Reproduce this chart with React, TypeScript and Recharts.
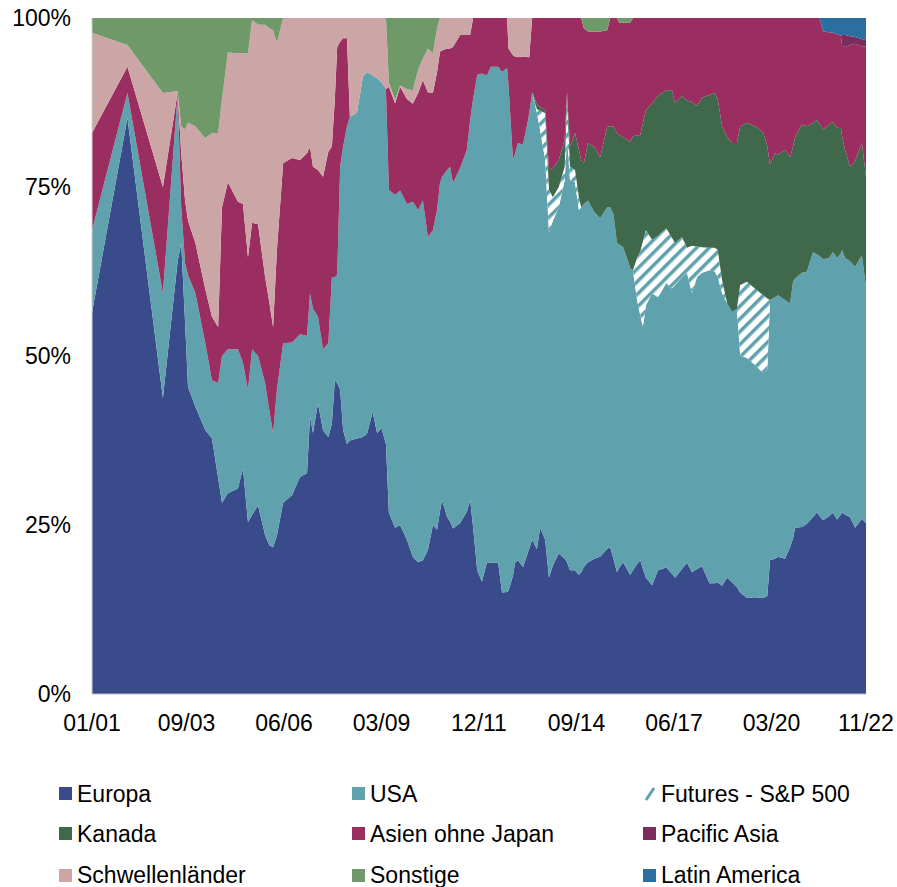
import { AreaChart, Area, XAxis, YAxis } from "recharts";

// month index since 01/2001
const months = [
  0, 12, 24, 29, 30.2, 31.5, 32.5, 35, 38.3, 40.6,
  42.7, 44, 46, 49.4, 51.1, 52.8, 54.2, 56.2, 58.6, 60,
  61.3, 62.6, 64.7, 67.7, 70.4, 72.8, 73.8, 74.8, 76.5, 78.2,
  80, 81.2, 82.2, 83, 84, 85, 86.3, 87.3, 89.7, 91.7,
  93.1, 95, 96.5, 98, 99.5, 100.5, 102.6, 104.3, 106.6, 108.6,
  110.4, 112, 113.7, 115.4, 116.8, 117.8, 118.5, 120.2, 121.2, 122.2,
  124.6, 126.9, 128, 129, 130.4, 132, 133.7, 135, 137.5, 138.8,
  140.5, 141, 142.5, 143.2, 144.2, 145.9, 147.6, 148, 149, 150.6,
  151.7, 153.4, 154.7, 156, 158, 160, 160.8, 161.8, 163.5, 164.8,
  165.6, 166.5, 167.9, 170, 172, 174.4, 175.4, 176.5, 177.7, 178.5,
  179.8, 182.2, 183.1, 184.5, 185.6, 186.5, 187.5, 189.6, 191.6, 194.4,
  196.3, 197.4, 199.7, 201.4, 203.1, 204.8, 206.5, 209, 210.8, 211.8,
  213.3, 215, 216.7, 218.3, 219.4, 221.7, 224.4, 227.2, 228.6, 229.5,
  231.2, 232.2, 234.6, 236.3, 237.3, 238, 240.3, 242, 244.1, 245.4,
  246.3, 247.5, 249.5, 250.8, 252.2, 253.5, 253.9, 254.9, 256.6, 258.3,
  260.6, 262,
];

const tickMonths = [0, 32, 65, 98, 131, 164, 197, 230, 262];
const tickLabels = ["01/01", "09/03", "06/06", "03/09", "12/11", "09/14", "06/17", "03/20", "11/22"];

const europa = [
  56.4, 85.2, 43.8, 64, 66.7, 55, 45.4, 42.5, 39.1, 37.8,
  32, 28.3, 29.7, 30.4, 33.4, 25.4, 26.5, 27.9, 23.5, 22,
  21.7, 23.5, 28.3, 29.4, 32.1, 32.7, 41, 38.6, 43, 39,
  38, 40, 46.4, 46, 45, 39, 37, 37.5, 37.8, 38,
  38.5, 41.7, 38.6, 39.3, 37, 26.8, 24.6, 25, 22.8, 20.3,
  19.5, 19.8, 21.3, 25, 24.3, 27, 28.7, 26.2, 25.5, 24.5,
  25.3, 27, 28.7, 24.7, 18.3, 16.6, 19.5, 19.4, 19.4, 15,
  15.1, 15.3, 17.5, 19.4, 19.8, 18.8, 21, 21.5, 22.8, 21.4,
  24.6, 22.8, 17.2, 19, 20.8, 20, 19.5, 18.3, 18.3, 17.6,
  18, 18.8, 19.5, 20, 20.3, 21.5, 21.7, 20, 18, 18.7,
  19.5, 17.6, 18.3, 19.2, 19.8, 18.5, 17.2, 16.1, 18.3, 18.7,
  17.8, 17.2, 18.5, 19.4, 18, 18.5, 18.9, 16.4, 16.4, 16.5,
  16, 17.2, 16.5, 15.8, 15, 14.2, 14.3, 14.2, 14.5, 19.8,
  20, 20.3, 20, 21.7, 23, 24.6, 24.7, 25.2, 26.2, 26.9,
  26.3, 25.7, 26.3, 26.8, 25.8, 26.5, 26.9, 26.5, 26.2, 24.6,
  25.9, 25.3,
];

const usa = [
  12.2, 3.7, 15.5, 24.8, 5.3, 8.8, 16.6, 16.8, 12.9, 8.6,
  14, 21.7, 21.3, 20.6, 15.6, 19.6, 24.5, 22.1, 22.5, 20,
  16.9, 21.5, 23.6, 22.6, 21.1, 20.3, 18.3, 18.4, 12.8, 12,
  13.9, 21.7, 15.3, 16, 33, 42, 47, 47.9, 48.2, 53.3,
  53.5, 49.8, 52.5, 51.2, 52.3, 47.8, 49.2, 49.5, 49.7, 52.5,
  52.1, 53.2, 46.3, 43.6, 47.3, 48.6, 47.8, 51.3, 52.5, 51.1,
  52.5, 53.5, 56.2, 63.3, 73.3, 75.2, 72, 73.4, 73.4, 77,
  77.5, 74.7, 61.5, 60.6, 61.7, 62.5, 63.9, 64.5, 66.2, 64.6,
  58.8, 56.2, 51, 51, 51.2, 56, 62.7, 57.7, 57.4, 54,
  54, 53.7, 53.5, 51.3, 50.1, 50.5, 50.3, 51, 48.7, 47.8,
  46.6, 45.4, 44.4, 39.1, 36.2, 35.8, 40.3, 43.2, 40.4, 42.1,
  42.2, 43.3, 43.2, 42.9, 41.3, 43.2, 43.4, 46.3, 46.1, 45.2,
  43.3, 40.6, 40, 41.2, 35.1, 35.5, 34.4, 33.3, 33.5, 38.5,
  38.7, 38.7, 38.3, 36.1, 38, 36.9, 37.6, 37.3, 39.2, 38.1,
  38.5, 38.6, 38.2, 38.6, 38.7, 38.7, 38.8, 38, 37.8, 38.6,
  39, 34.9,
];

const futures = [
  0, 0, 0, 0, 0, 0, 0, 0, 0, 0,
  0, 0, 0, 0, 0, 0, 0, 0, 0, 0,
  0, 0, 0, 0, 0, 0, 0, 0, 0, 0,
  0, 0, 0, 0, 0, 0, 0, 0, 0, 0,
  0, 0, 0, 0, 0, 0, 0, 0, 0, 0,
  0, 0, 0, 0, 0, 0, 0, 0, 0, 0,
  0, 0, 0, 0, 0, 0, 0, 0, 0, 0,
  0, 0, 0, 0, 0, 0, 0, 0, 0, 0.5,
  2.9, 6.9, 6.4, 3.5, 3, 2, 5.8, 2, 1.8, 1.9,
  0, 0, 0, 0, 0, 0, 0, 0, 0, 0,
  0, 0, 0, 6.2, 9.5, 12.7, 11.1, 7.9, 9.1, 8.1,
  7.5, 6.2, 5.9, 3.7, 7, 4.5, 3.8, 3.3, 3.5, 4,
  1.9, 0, 0, 0, 10.4, 11.3, 11.3, 11.5, 10.5, 0,
  0, 0, 0, 0, 0, 0, 0, 0, 0, 0,
  0, 0, 0, 0, 0, 0, 0, 0, 0, 0,
  0, 0,
];

const kanada = [
  0, 0, 0, 0, 0, 0, 0, 0, 0, 0,
  0, 0, 0, 0, 0, 0, 0, 0, 0, 0,
  0, 0, 0, 0, 0, 0, 0, 0, 0, 0,
  0, 0, 0, 0, 0, 0, 0, 0, 0, 0,
  0, 0, 0, 0, 0, 0, 0, 0, 0, 0,
  0, 0, 0, 0, 0, 0, 0, 0, 0, 0,
  0, 0, 0, 0, 0, 0, 0, 0, 0, 0,
  0, 0, 0, 0, 0, 0, 0, 0, 0, 0.8,
  0.5, 0.5, 2.9, 4.3, 4, 4, 1, 3, 5.5, 7,
  7, 6, 8.5, 9.7, 9, 11.9, 12, 13, 16.3, 16.2,
  16.3, 18.7, 19.8, 18.1, 17.2, 17.5, 17.8, 20.2, 20.7, 20.4,
  21.8, 20.7, 20.9, 21.8, 21.3, 20.8, 22.1, 22.6, 22.9, 22.3,
  22.7, 24.6, 25, 24.5, 23.4, 23.5, 24, 24.1, 22.5, 20,
  21.3, 20.8, 22.2, 21.6, 20, 20.9, 21.9, 21.5, 19.1, 19.9,
  19.5, 19.2, 19.7, 19.2, 19.3, 18.5, 16.8, 16, 14, 15.6,
  16.6, 16.3,
];

const asien = [
  14.4, 3.9, 15.7, 0.2, 8, 9.2, 8, 7.4, 8, 9.4,
  8.3, 22, 24.7, 21.8, 23.5, 19.6, 18.7, 19.5, 15.7, 16,
  15.7, 20.7, 26.6, 27.3, 25.8, 27, 21.6, 21, 21.7, 25.5,
  28.3, 19.3, 26.3, 33.7, 18.5, 16, 13, 0, 0, 0,
  0, 0, 0, 0, 0.2, 15.2, 13.6, 15.3, 15.5, 14.5,
  17.3, 17.8, 21.4, 20.3, 20.4, 19.4, 18.7, 18, 17.5, 20.1,
  19.7, 17, 12.6, 12, 8.4, 8.2, 8.5, 7.2, 7.2, 8,
  7.4, 5.5, 15.5, 14.3, 12.7, 13, 9.3, 8.2, 11, 12.7,
  13.2, 13.6, 22.5, 22.2, 21, 18, 11, 19, 17, 19.5,
  21, 20, 16.5, 17, 18.6, 14.3, 16, 16, 17, 16.6,
  16.9, 17.6, 17.5, 17.4, 17.3, 15.5, 13.6, 12.6, 11.5, 10.7,
  10.7, 12.6, 11.5, 12.2, 12.4, 13, 11.8, 11.4, 11.1, 12,
  16.1, 17.6, 18.5, 18.5, 16.1, 15.5, 16, 16.9, 19, 21.7,
  20, 20.2, 19.5, 20.6, 19, 17.6, 15.8, 16, 15.5, 15.1,
  15.7, 14.5, 13.7, 13.2, 13.8, 13.7, 13.5, 15.2, 18, 17.4,
  14.3, 19.3,
];

const pacificAsia = [
  0, 0, 0, 0, 0, 0, 0, 0, 0, 0,
  0, 0, 0, 0, 0, 0, 0, 0, 0, 0,
  0, 0, 0, 0, 0, 0, 0, 0, 0, 0,
  0, 0, 0, 0, 0, 0, 0, 0, 0, 0,
  0, 0, 0, 0, 0, 0, 0, 0, 0, 0,
  0, 0, 0, 0, 0, 0, 0, 0, 0, 0,
  0, 0, 0, 0, 0, 0, 0, 0, 0, 0,
  0, 0, 0, 0, 0, 0, 0, 0, 0, 0,
  0, 0, 0, 0, 0, 0, 0, 0, 0, 0,
  0, 0, 0, 0, 0, 0, 0, 0, 0, 0,
  0, 0, 0, 0, 0, 0, 0, 0, 0, 0,
  0, 0, 0, 0, 0, 0, 0, 0, 0, 0,
  0, 0, 0, 0, 0, 0, 0, 0, 0, 0,
  0, 0, 0, 0, 0, 0, 0, 0, 0, 0,
  0, 0, 0, 0, 0, 0, 1.5, 1.8, 1.3, 1,
  1.1, 0.9,
];

const schwellen = [
  14.8, 3.2, 13.9, 0.2, 4, 10.5, 14.5, 17.3, 22.2, 27.2,
  28.7, 16, 19.2, 22, 22.3, 30.2, 30, 29.5, 37.3, 40.5,
  43.9, 30.6, 21.5, 20.7, 21, 20, 19.1, 22, 22.5, 23.5,
  19.8, 19, 12, 4.3, 3.5, 3, 3, 14.6, 14, 8.7,
  8, 8.5, 8.9, 9.5, 10.5, 0.7, 0.5, 0.2, 1.5, 2,
  3.4, 3.2, 6.5, 5.9, 6.5, 5, 4.8, 4.5, 4.5, 4.3,
  2.5, 2.5, 2.5, 0, 0, 0, 0, 0, 0, 0,
  0, 4.5, 5.5, 5.7, 5.8, 5.7, 5.8, 5.8, 0, 0,
  0, 0, 0, 0, 0, 0, 0, 0, 0, 0,
  0, 0, 0, 0, 0, 0, 0, 0, 0, 0,
  0, 0, 0, 0, 0, 0, 0, 0, 0, 0,
  0, 0, 0, 0, 0, 0, 0, 0, 0, 0,
  0, 0, 0, 0, 0, 0, 0, 0, 0, 0,
  0, 0, 0, 0, 0, 0, 0, 0, 0, 0,
  0, 0, 0, 0, 0, 0, 0, 0, 0, 0,
  0, 0,
];

const sonstige = [
  2.2, 4, 11.1, 10.8, 16, 16.5, 15.5, 16, 17.8, 17,
  17, 12, 5.1, 5.2, 5.2, 5.2, 0.3, 1, 1, 1.5,
  1.8, 3.7, 0, 0, 0, 0, 0, 0, 0, 0,
  0, 0, 0, 0, 0, 0, 0, 0, 0, 0,
  0, 0, 0, 0, 0, 9.5, 12.1, 10, 10.5, 10.7,
  7.7, 6, 4.5, 5.2, 1.5, 0, 0, 0, 0, 0,
  0, 0, 0, 0, 0, 0, 0, 0, 0, 0,
  0, 0, 0, 0, 0, 0, 0, 0, 0, 0,
  0, 0, 0, 0, 0, 0, 0, 0, 0, 0,
  0, 1.5, 2, 2, 2, 1.8, 0, 0, 0, 0.7,
  0.7, 0.7, 0, 0, 0, 0, 0, 0, 0, 0,
  0, 0, 0, 0, 0, 0, 0, 0, 0, 0,
  0, 0, 0, 0, 0, 0, 0, 0, 0, 0,
  0, 0, 0, 0, 0, 0, 0, 0, 0, 0,
  0, 0, 0, 0, 0, 0, 0, 0, 0, 0,
  0, 0,
];

const latinAmerica = [
  0, 0, 0, 0, 0, 0, 0, 0, 0, 0,
  0, 0, 0, 0, 0, 0, 0, 0, 0, 0,
  0, 0, 0, 0, 0, 0, 0, 0, 0, 0,
  0, 0, 0, 0, 0, 0, 0, 0, 0, 0,
  0, 0, 0, 0, 0, 0, 0, 0, 0, 0,
  0, 0, 0, 0, 0, 0, 0, 0, 0, 0,
  0, 0, 0, 0, 0, 0, 0, 0, 0, 0,
  0, 0, 0, 0, 0, 0, 0, 0, 0, 0,
  0, 0, 0, 0, 0, 0, 0, 0, 0, 0,
  0, 0, 0, 0, 0, 0, 0, 0, 0, 0,
  0, 0, 0, 0, 0, 0, 0, 0, 0, 0,
  0, 0, 0, 0, 0, 0, 0, 0, 0, 0,
  0, 0, 0, 0, 0, 0, 0, 0, 0, 0,
  0, 0, 0, 0, 0, 0, 0, 0, 0, 0,
  0, 2, 2.1, 2.2, 2.4, 2.6, 2.5, 2.5, 2.7, 2.8,
  3.1, 3.3,
];

const TEAL = "#5FA2AD";

const series = [
  { key: "europa", name: "Europa", color: "#394B8B", values: europa },
  { key: "usa", name: "USA", color: TEAL, values: usa },
  { key: "futures", name: "Futures - S&P 500", color: "url(#sp500)", values: futures },
  { key: "kanada", name: "Kanada", color: "#40684B", values: kanada },
  { key: "asien", name: "Asien ohne Japan", color: "#9B2E60", values: asien },
  { key: "pacific", name: "Pacific Asia", color: "#7A2D5C", values: pacificAsia },
  { key: "schwellen", name: "Schwellenländer", color: "#CCA6A6", values: schwellen },
  { key: "sonstige", name: "Sonstige", color: "#6F9969", values: sonstige },
  { key: "latam", name: "Latin America", color: "#2A6FA0", values: latinAmerica },
];

const data = months.map((m, i) => {
  const row: Record<string, number> = { m };
  series.forEach((s) => {
    row[s.key] = s.values[i];
  });
  return row;
});

const font = "'Liberation Sans', Arial, sans-serif";
// legend grid, page coordinates
const legendCols = [59, 352, 643];
const legendRows = [793.5, 833.5, 875];

function LegendIcon({ s }: { s: (typeof series)[number] }) {
  if (s.key === "futures") {
    return (
      <svg width={13} height={14} style={{ marginRight: 5, flex: "none" }}>
        <line x1={3} y1={13} x2={11} y2={1} stroke={TEAL} strokeWidth={3} />
      </svg>
    );
  }
  return <div style={{ width: 13, height: 13, background: s.color, marginRight: 5, flex: "none" }} />;
}

export default function App() {
  return (
    <div
      style={{
        position: "absolute",
        left: 0,
        top: 0,
        width: 897,
        height: 887,
        overflow: "hidden",
        background: "#fff",
        fontFamily: font,
      }}
    >
      <AreaChart
        width={897}
        height={748}
        data={data}
        stackOffset="expand"
        margin={{ top: 18, right: 31, left: 8, bottom: 0 }}
      >
        <defs>
          <pattern id="sp500" width="9" height="9" patternUnits="userSpaceOnUse" patternTransform="rotate(45)">
            <rect width="9" height="9" fill="#ffffff" />
            <rect width="3.5" height="9" fill={TEAL} />
          </pattern>
        </defs>
        <XAxis
          type="number"
          dataKey="m"
          domain={[0, 262]}
          ticks={tickMonths}
          interval={0}
          tickFormatter={(v: number) => tickLabels[tickMonths.indexOf(v)]}
          tickLine={false}
          tickSize={0}
          tickMargin={21}
          height={54}
          axisLine={{ stroke: "#BFBFBF" }}
          tick={{ fill: "#000", fontSize: 23, fontFamily: font }}
        />
        <YAxis
          domain={[0, 1]}
          ticks={[0, 0.25, 0.5, 0.75, 1]}
          tickFormatter={(v: number) => `${Math.round(v * 100)}%`}
          width={84}
          tickLine={false}
          tickSize={0}
          tickMargin={21}
          axisLine={{ stroke: "#D0D0D0" }}
          tick={{ fill: "#000", fontSize: 23, fontFamily: font }}
        />
        {series.map((s) => (
          <Area
            key={s.key}
            type="linear"
            dataKey={s.key}
            name={s.name}
            stackId="1"
            stroke="none"
            fill={s.color}
            fillOpacity={1}
            isAnimationActive={false}
          />
        ))}
      </AreaChart>
      {series.map((s, i) => (
        <div
          key={s.key}
          style={{
            position: "absolute",
            left: legendCols[i % 3],
            top: legendRows[Math.floor(i / 3)] - 14,
            height: 28,
            display: "flex",
            alignItems: "center",
            fontSize: 23,
            lineHeight: "28px",
            color: "#000",
            whiteSpace: "nowrap",
          }}
        >
          <LegendIcon s={s} />
          <span>{s.name}</span>
        </div>
      ))}
    </div>
  );
}
